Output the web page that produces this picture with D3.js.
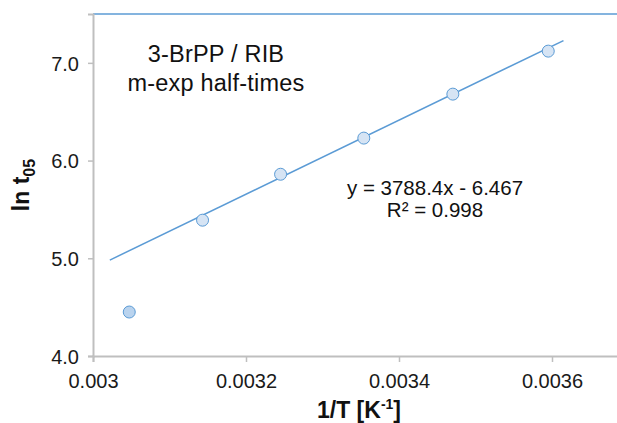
<!DOCTYPE html>
<html>
<head>
<meta charset="utf-8">
<script src="https://cdn.jsdelivr.net/npm/d3@7"></script>
<style>
  html, body { margin: 0; padding: 0; background: #fff; }
  svg { display: block; font-family: "Liberation Sans", Arial, sans-serif; }
</style>
</head>
<body>
<svg id="chart" width="617" height="423"></svg>
<script>
// 1/T values (K^-1) and ln t05
var invT = [0.0030474, 0.0031432, 0.0032452, 0.0033540, 0.0034704, 0.0035951];
var lnT05 = [4.45, 5.39, 5.86, 6.23, 6.68, 7.12];
var fitted = [false, true, true, true, true, true];

// linear trendline shown on the chart
var slope = 3788.4;
var intercept = -6.467;
var trendX = [0.003022, 0.003615];

var xTicks = [0.003, 0.0032, 0.0034, 0.0036];
var yTicks = [4.0, 5.0, 6.0, 7.0];
var titleLines = ["3-BrPP / RIB", "m-exp half-times"];
var eqLines = ["y = 3788.4x - 6.467", "R² = 0.998"];

var BLUE = "#5b9bd5";
var AXIS = "#bfbfbf";

var svg = d3.select("#chart");

var x = d3.scaleLinear().domain([0.003, 0.0037]).range([93, 628.5]);
var y = d3.scaleLinear().domain([4, 7.5]).range([356, 14]);

// top border of plot area
svg.append("line")
    .attr("x1", x(0.003)).attr("x2", x(0.0037))
    .attr("y1", y(7.5)).attr("y2", y(7.5))
    .attr("stroke", BLUE).attr("stroke-width", 1.5);

// axes
var yAxis = svg.append("g")
    .attr("transform", "translate(" + x(0.003) + ",0)")
    .call(d3.axisLeft(y).tickValues(yTicks).tickFormat(d3.format(".1f")).tickSize(5).tickPadding(9));
var xAxis = svg.append("g")
    .attr("transform", "translate(0," + y(4) + ")")
    .call(d3.axisBottom(x).tickValues(xTicks).tickFormat(function(d) { return String(+d.toFixed(4)); }).tickSize(6).tickPadding(12));

[yAxis, xAxis].forEach(function(g) {
    g.select(".domain").attr("stroke", AXIS).attr("stroke-width", 2);
    g.selectAll(".tick line").attr("stroke", AXIS).attr("stroke-width", 1.5);
    g.selectAll(".tick text")
        .attr("fill", "#1a1a1a")
        .style("font-size", "20px")
        .style("font-family", "Liberation Sans, Arial, sans-serif");
});
yAxis.selectAll(".tick text").attr("dy", "0.36em");

// trendline
svg.append("path")
    .datum(trendX)
    .attr("fill", "none")
    .attr("stroke", BLUE)
    .attr("stroke-width", 1.5)
    .attr("d", d3.line()
        .x(function(d) { return x(d); })
        .y(function(d) { return y(slope * d + intercept); }));

// points
svg.selectAll("circle.pt")
    .data(invT)
    .enter()
    .append("circle")
    .attr("class", "pt")
    .attr("cx", function(d) { return x(d); })
    .attr("cy", function(d, i) { return y(lnT05[i]); })
    .attr("r", 6)
    .attr("fill", function(d, i) { return fitted[i] ? "#d6e4f4" : "#b9d3ee"; })
    .attr("stroke", BLUE)
    .attr("stroke-width", 1);

// annotation
svg.append("text")
    .attr("x", 216)
    .attr("y", 62)
    .attr("text-anchor", "middle")
    .style("font-size", "23.5px")
    .style("letter-spacing", "0.2px")
    .attr("fill", "#111")
    .selectAll("tspan")
    .data(titleLines)
    .enter()
    .append("tspan")
    .attr("x", 216)
    .attr("dy", function(d, i) { return i ? 29 : 0; })
    .text(function(d) { return d; });

svg.append("text")
    .attr("x", 435)
    .attr("y", 195)
    .attr("text-anchor", "middle")
    .style("font-size", "20.5px")
    .attr("fill", "#111")
    .selectAll("tspan")
    .data(eqLines)
    .enter()
    .append("tspan")
    .attr("x", 435)
    .attr("dy", function(d, i) { return i ? 22 : 0; })
    .text(function(d) { return d; });

// axis titles
var xt = svg.append("text")
    .attr("x", 359)
    .attr("y", 418)
    .attr("text-anchor", "middle")
    .style("font-size", "23px")
    .style("font-weight", "bold")
    .attr("fill", "#111");
xt.append("tspan").text("1/T [K");
xt.append("tspan").attr("dy", -9).style("font-size", "14px").text("-1");
xt.append("tspan").attr("dy", 9).text("]");

var yt = svg.append("text")
    .attr("transform", "translate(29,185) rotate(-90)")
    .attr("text-anchor", "middle")
    .style("font-size", "23px")
    .style("font-weight", "bold")
    .attr("fill", "#111");
yt.append("tspan").text("ln t");
yt.append("tspan").attr("dy", 6).style("font-size", "16px").text("05");
</script>
</body>
</html>
